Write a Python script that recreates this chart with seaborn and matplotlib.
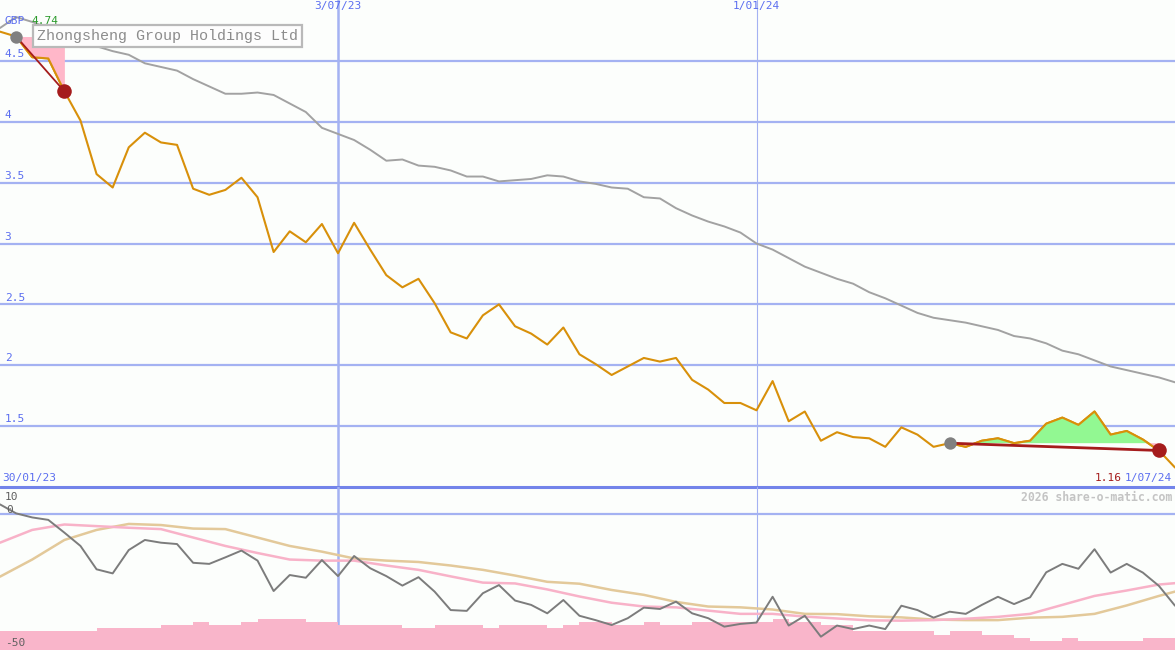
import numpy as np
import pandas as pd
import matplotlib
matplotlib.use("Agg")
import matplotlib.pyplot as plt
import matplotlib.dates as mdates
import seaborn as sns

# weekly data, first week 6 Feb 2023
start_date = "2023-02-06"

# share price (GBP)
price = [4.74, 4.70, 4.53, 4.52, 4.25, 4.01, 3.57, 3.46, 3.79, 3.91,
         3.83, 3.81, 3.45, 3.40, 3.44, 3.54, 3.38, 2.93, 3.10, 3.01,
         3.16, 2.92, 3.17, 2.95, 2.74, 2.64, 2.71, 2.51, 2.27, 2.22,
         2.41, 2.50, 2.32, 2.26, 2.17, 2.31, 2.09, 2.01, 1.92, 1.99,
         2.06, 2.03, 2.06, 1.88, 1.80, 1.69, 1.69, 1.63, 1.87, 1.54,
         1.62, 1.38, 1.45, 1.41, 1.40, 1.33, 1.49, 1.43, 1.33, 1.36,
         1.33, 1.38, 1.40, 1.36, 1.38, 1.52, 1.57, 1.51, 1.62, 1.43,
         1.46, 1.39, 1.30, 1.16]

# moving average (grey)
moving_avg = [4.77, 4.86, 4.82, 4.77, 4.72, 4.67, 4.62, 4.58, 4.55, 4.48,
              4.45, 4.42, 4.35, 4.29, 4.23, 4.23, 4.24, 4.22, 4.15, 4.08,
              3.95, 3.90, 3.85, 3.77, 3.68, 3.69, 3.64, 3.63, 3.60, 3.55,
              3.55, 3.51, 3.52, 3.53, 3.56, 3.55, 3.51, 3.49, 3.46, 3.45,
              3.38, 3.37, 3.29, 3.23, 3.18, 3.14, 3.09, 3.00, 2.95, 2.88,
              2.81, 2.76, 2.71, 2.67, 2.60, 2.55, 2.49, 2.43, 2.39, 2.37,
              2.35, 2.32, 2.29, 2.24, 2.22, 2.18, 2.12, 2.09, 2.04, 1.99,
              1.96, 1.93, 1.90, 1.86]

# lower panel oscillator (grey)
oscillator = [3.6, 0.3, -1.2, -2.1, -6.8, -11.7, -20.3, -21.8, -13.2, -9.5,
              -10.5, -11.0, -17.9, -18.3, -15.9, -13.4, -17.1, -28.3, -22.4, -23.4,
              -16.9, -22.8, -15.4, -19.9, -22.8, -26.3, -23.2, -28.5, -35.3, -35.6,
              -29.1, -26.1, -31.8, -33.4, -36.5, -31.6, -37.4, -39.0, -40.8, -38.3,
              -34.4, -34.9, -32.2, -36.5, -38.3, -41.4, -40.4, -39.9, -30.4, -41.0,
              -37.4, -45.1, -41.0, -42.3, -41.0, -42.3, -33.7, -35.3, -38.1, -35.9,
              -36.7, -33.4, -30.4, -33.1, -30.6, -21.4, -18.3, -20.1, -12.9, -21.5,
              -18.3, -21.5, -26.4, -33.7]

# signal lines, read every second week plus the last week
signal_weeks = list(range(0, 73, 2)) + [73]
signal_fast = [-10.5, -5.8, -3.8, -4.4, -5.0, -5.5, -8.6, -11.7, -14.3, -16.7,
               -17.1, -17.1, -18.9, -20.5, -22.9, -25.2, -25.5, -27.7, -30.3, -32.6,
               -34.0, -34.3, -35.5, -36.7, -36.7, -37.7, -38.4, -39.1, -39.2, -39.0,
               -38.5, -37.8, -36.7, -33.4, -30.1, -28.1, -25.9, -25.4]
signal_slow = [-23.0, -16.7, -9.5, -5.8, -3.6, -4.0, -5.3, -5.5, -8.6, -11.7,
               -13.8, -16.3, -17.1, -17.6, -18.9, -20.5, -22.6, -24.9, -25.6, -27.9,
               -29.7, -32.3, -34.0, -34.3, -35.1, -36.7, -36.8, -37.6, -38.0, -38.8,
               -39.0, -39.0, -38.1, -37.8, -36.7, -33.6, -30.1, -28.5]

# weekly histogram tops (bars rise from -50)
bar_tops = ([-42.9] * 6 + [-41.8] * 4 + [-40.8] * 2 + [-39.8] + [-40.8] * 2 +
            [-39.8] + [-38.6] * 3 + [-39.8] * 2 + [-40.8] * 4 + [-41.8] * 2 +
            [-40.8] * 3 + [-41.8] + [-40.8] * 3 + [-41.8] + [-40.8] +
            [-39.8] * 2 + [-40.8] * 2 + [-39.8] + [-40.8] * 2 + [-39.8] * 5 +
            [-38.6] + [-39.8] * 2 + [-40.8] * 2 + [-43.0] * 5 + [-44.5] +
            [-43.0] * 2 + [-44.5] * 2 + [-45.7] + [-46.7] * 2 + [-45.7] +
            [-46.7] * 4 + [-45.7] * 2)

# trend segments (start week, end week)
trends = [(1, 4), (59, 72)]

price_levels = [1.5, 2, 2.5, 3, 3.5, 4, 4.5]
price_labels = ["1.5", "2", "2.5", "3", "3.5", "4", "4.5"]
marker_dates = ["2023-07-03", "2024-01-01"]
marker_labels = ["3/07/23", "1/01/24"]

# colours
BG = "#fcfefc"
GRID = "#a4b2f2"
BORDER = "#7384ea"
BLUE_TXT = "#5b6ef0"
ORANGE = "#d8900a"
GREY_MA = "#a2a2a2"
RED = "#a51c1c"
PINK_FILL = "#ffb7c9"
GREEN_FILL = "#92f892"
FS = 8

sns.set_theme(style="white", rc={"axes.facecolor": BG, "figure.facecolor": BG})
plt.rcParams["font.family"] = ["DejaVu Sans Mono", "DejaVu Sans"]

dates = pd.date_range(start_date, periods=len(price), freq="7D")
xnum = mdates.date2num(dates)
price_arr = np.array(price)

df = pd.DataFrame({"date": dates, "price": price, "ma": moving_avg, "osc": oscillator})
sig = pd.DataFrame({"date": dates[signal_weeks], "fast": signal_fast, "slow": signal_slow})

fig = plt.figure(figsize=(11.75, 6.5), dpi=100)
ax = fig.add_axes([0, 163 / 650, 1, 487 / 650])
ax2 = fig.add_axes([0, 0, 1, 163 / 650])

xlim = (xnum[0], xnum[-1])

# ---- top panel ----
for v, lab in zip(price_levels, price_labels):
    ax.axhline(v, color=GRID, lw=1.6, zorder=1)
    ax.text(0.004, v + 0.015, lab, transform=ax.get_yaxis_transform(),
            color=BLUE_TXT, fontsize=FS, va="bottom", ha="left", zorder=6)
for d, lab in zip(marker_dates, marker_labels):
    lw = 1.8 if lab == "3/07/23" else 0.8
    ax.axvline(pd.Timestamp(d), color=GRID, lw=lw, zorder=1)
    ax2.axvline(pd.Timestamp(d), color=GRID, lw=lw, zorder=1)
    ax.text(pd.Timestamp(d), 4.995, lab, color=BLUE_TXT, fontsize=FS,
            ha="center", va="top", zorder=6)

sns.lineplot(data=df, x="date", y="ma", ax=ax, color=GREY_MA, lw=1.4, zorder=2)
sns.lineplot(data=df, x="date", y="price", ax=ax, color=ORANGE, lw=1.5, zorder=3)

# gain / loss shading against the start of each trend
for i0, i1 in trends:
    xs = xnum[i0:i1 + 1]
    ys = price_arr[i0:i1 + 1]
    base = price_arr[i0]
    ax.fill_between(xs, ys, base, where=ys >= base, interpolate=True,
                    color=GREEN_FILL, lw=0, zorder=5)
    ax.fill_between(xs, ys, base, where=ys <= base, interpolate=True,
                    color=PINK_FILL, lw=0, zorder=5)
    ax.plot(xs, ys, color=ORANGE, lw=1.5, zorder=5.5)
    ax.plot([xnum[i0], xnum[i1]], [price_arr[i0], price_arr[i1]],
            color=RED, lw=1.3 if i0 < 10 else 2.0, zorder=6)
    ax.scatter([xnum[i0]], [price_arr[i0]], s=80, color="#808080", zorder=7, lw=0)
    ax.scatter([xnum[i1]], [price_arr[i1]], s=110, color=RED, zorder=7, lw=0)

ax.axhline(1.0, color=BORDER, lw=2.2, zorder=6, clip_on=False)

ax.set_xlim(xlim)
ax.set_ylim(1.0, 5.0)
ax.set_axis_off()

ax.text(0.004, 4.83, "GBP", color=BLUE_TXT, fontsize=FS, va="center", zorder=6,
        transform=ax.get_yaxis_transform())
ax.text(0.027, 4.83, "%.2f" % price[0], color="#2a9a2a", fontsize=FS, va="center",
        zorder=6, transform=ax.get_yaxis_transform())
fig.text(37 / 1175, 1 - 36 / 650, "Zhongsheng Group Holdings Ltd",
         family="Liberation Mono", fontsize=10.8, color="#8c8c8c", va="center",
         ha="left", zorder=4,
         bbox=dict(boxstyle="square,pad=0.25", fc="#fdfdfd", ec="#b9b9b9", lw=1.6))

ax.text(0.002, 1.03, "30/01/23", transform=ax.get_yaxis_transform(),
        color=BLUE_TXT, fontsize=FS, va="bottom", ha="left", zorder=6)
ax.text(0.9975, 1.03, "1/07/24", transform=ax.get_yaxis_transform(),
        color=BLUE_TXT, fontsize=FS, va="bottom", ha="right", zorder=6)
ax.text(0.955, 1.03, "%.2f" % price[-1], transform=ax.get_yaxis_transform(),
        color=RED, fontsize=FS, va="bottom", ha="right", zorder=6)

# ---- bottom panel ----
ax2.axhline(0, color=GRID, lw=1.6, zorder=1)
ax2.bar(xnum[:len(bar_tops)], np.array(bar_tops) + 50, width=7, align="edge",
        bottom=-50, color="#f9b5ca", lw=0, zorder=2)
sns.lineplot(data=sig, x="date", y="slow", ax=ax2, color="#e3c99a", lw=1.8, zorder=3)
sns.lineplot(data=sig, x="date", y="fast", ax=ax2, color="#f8b2c8", lw=1.8, zorder=3)
sns.lineplot(data=df, x="date", y="osc", ax=ax2, color="#7c7c7c", lw=1.4, zorder=4)
ax2.set_xlim(xlim)
ax2.set_ylim(-50, 10)
ax2.set_axis_off()

ax2.text(0.004, 6.5, "10", transform=ax2.get_yaxis_transform(), color="#606060",
         fontsize=FS, va="center", zorder=6)
ax2.text(0.005, 1.5, "0", transform=ax2.get_yaxis_transform(), color="#606060",
         fontsize=FS, va="center", zorder=6)
ax2.text(0.004, -47.3, "-50", transform=ax2.get_yaxis_transform(), color="#606060",
         fontsize=FS, va="center", zorder=6)
ax2.text(0.9975, 6.3, "2026 share-o-matic.com", transform=ax2.get_yaxis_transform(),
         color="#c4c4c4", fontsize=8.3, fontweight="bold", va="center", ha="right",
         zorder=6)

fig.savefig("out.png", dpi=100, facecolor=BG)
